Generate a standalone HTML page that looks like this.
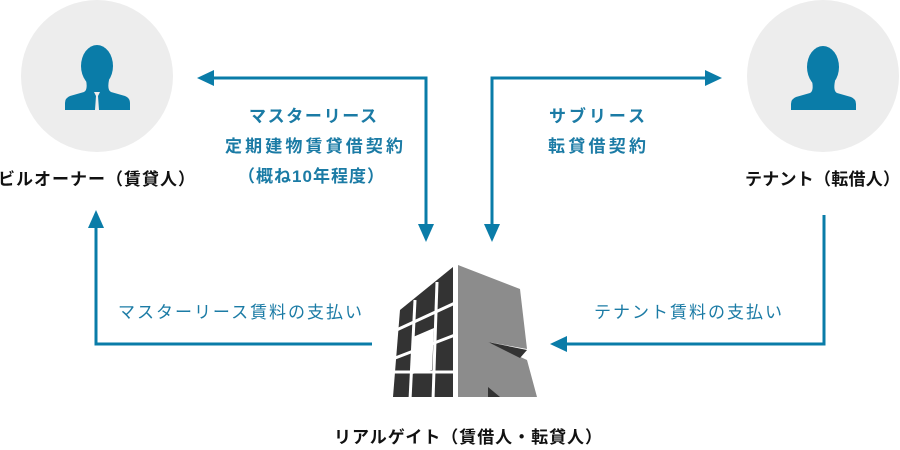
<!DOCTYPE html>
<html><head><meta charset="utf-8"><style>
html,body{margin:0;padding:0;background:#fff;}
svg{display:block;}
text{font-family:"Liberation Sans","Noto Sans CJK JP",sans-serif;}
</style></head><body>
<svg width="900" height="450" viewBox="0 0 900 450" xmlns="http://www.w3.org/2000/svg">
<circle cx="97" cy="76" r="76" fill="#ededed"/>
<circle cx="823" cy="76" r="76" fill="#ededed"/>
<g fill="#0a7ca8">
 <ellipse cx="97" cy="66" rx="16" ry="21"/>
 <path d="M86 80 Q88 90 84 92 L70 96 Q65 98 65 103 L65 110 L130 110 L130 103 Q130 98 125 96 L111 92 Q107 90 109 80 Z"/>
 <ellipse cx="823" cy="67" rx="16" ry="21"/>
 <path d="M812 81 Q814 91 810 93 L796 97 Q791 99 791 104 L791 110 L856 110 L856 104 Q856 99 851 97 L837 93 Q833 91 835 81 Z"/>
</g>
<path d="M94 92 L100 92 L98 96 L99 110 L95 110 L96 96 Z" fill="#ededed"/>
<g stroke="#0a7ca8" stroke-width="3" fill="none">
 <polyline points="212,78 426,78 426,226"/>
 <polyline points="492,226 492,78 706,78"/>
 <polyline points="372,344 96,344 96,226"/>
 <polyline points="824,215 824,344 566,344"/>
</g>
<g fill="#0a7ca8">
 <polygon points="197,78 214,70 214,86"/>
 <polygon points="426,242 418,224 434,224"/>
 <polygon points="492,242 484,224 500,224"/>
 <polygon points="722,78 705,70 705,86"/>
 <polygon points="96,210 88,228 104,228"/>
 <polygon points="550,344 567,336 567,352"/>
</g>
<g font-size="17" font-weight="bold" fill="#1b7ba5" lengthAdjust="spacing">
 <text x="249" y="122" textLength="128" lengthAdjust="spacing">マスターリース</text>
 <text x="225" y="152" textLength="178" lengthAdjust="spacing">定期建物賃貸借契約</text>
 <text x="238" y="182" textLength="146" lengthAdjust="spacing">（概ね10年程度）</text>
 <text x="549" y="122" textLength="96" lengthAdjust="spacing">サブリース</text>
 <text x="548" y="152" textLength="98" lengthAdjust="spacing">転貸借契約</text>
</g>
<g font-size="17" fill="#1b7ba5">
 <text x="118" y="318" textLength="244" lengthAdjust="spacing">マスターリース賃料の支払い</text>
 <text x="594" y="318" textLength="188" lengthAdjust="spacing">テナント賃料の支払い</text>
</g>
<g font-size="17" font-weight="bold" fill="#111">
 <text x="-2" y="185" textLength="197" lengthAdjust="spacing">ビルオーナー（賃貸人）</text>
 <text x="745" y="185" textLength="155" lengthAdjust="spacing">テナント（転借人）</text>
 <text x="334" y="443" textLength="268" lengthAdjust="spacing">リアルゲイト（賃借人・転貸人）</text>
</g>
<!-- building -->
<polygon points="400,310 453,267 453,397 393,397" fill="#333"/>
<g stroke="#fff" stroke-width="3">
 <line x1="415" y1="300" x2="410" y2="400"/>
 <line x1="437" y1="282" x2="433" y2="400"/>
 <line x1="390" y1="333" x2="455" y2="303"/>
 <line x1="390" y1="360" x2="455" y2="335"/>
 <line x1="390" y1="372" x2="455" y2="372"/>
</g>
<polygon points="413,337 434,328 432,370 412,374" fill="#fff"/>
<polygon points="458,265 520,289 527,349 488,342 527,360 537,397 458,397" fill="#8c8c8c"/>
<polygon points="488,342 527,350 520,358" fill="#333"/>
<polygon points="488,387 488,397 500,397" fill="#333"/>
</svg>
</body></html>
